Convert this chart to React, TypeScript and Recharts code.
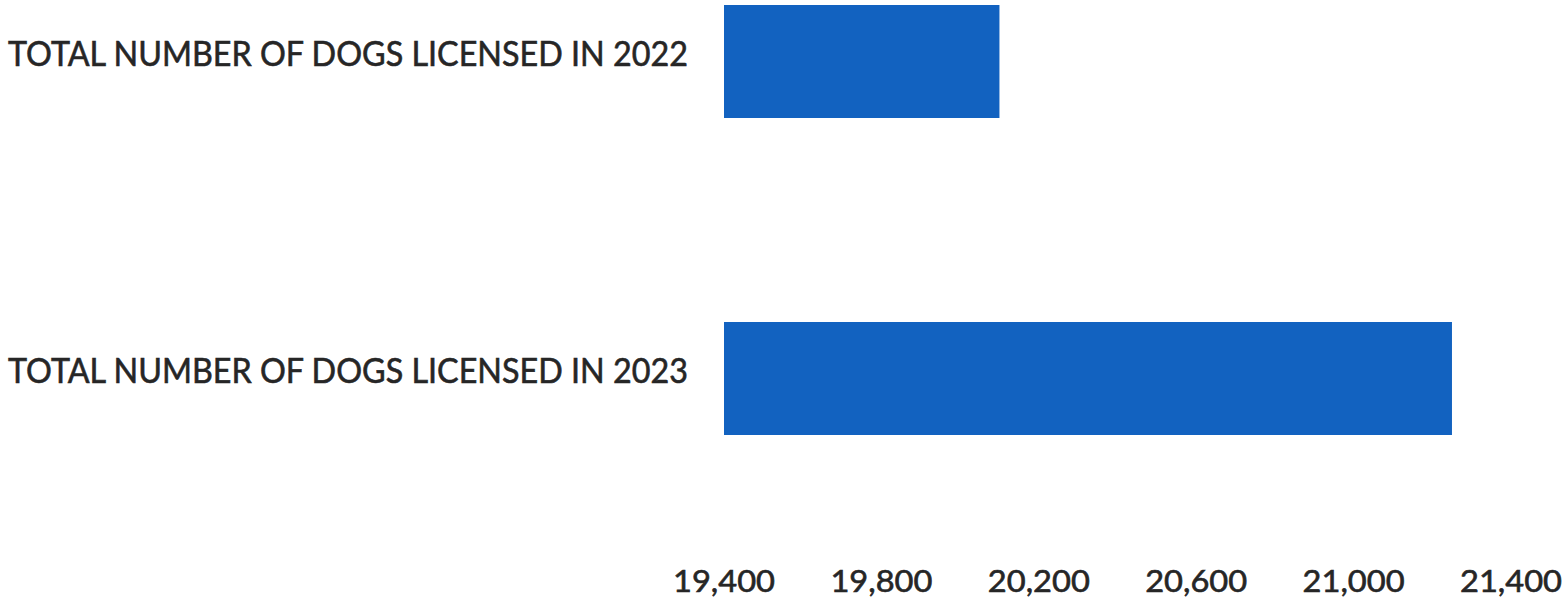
import React from "react";
import { BarChart, Bar, XAxis, YAxis } from "recharts";

const categories = [
  "TOTAL NUMBER OF DOGS LICENSED IN 2022",
  "TOTAL NUMBER OF DOGS LICENSED IN 2023",
];
const dogsLicensed = [20100, 21250];
const xTicks = [19400, 19800, 20200, 20600, 21000, 21400];

const data = categories.map((name, i) => ({ name, value: dogsLicensed[i] }));

const TEXT = "#262626";
const FONT = "Lato, 'Open Sans', sans-serif";

const YTick = (props: any) => {
  const { y, payload } = props;
  return (
    <text
      x={8}
      y={y + 4}
      fill={TEXT}
      stroke={TEXT}
      strokeWidth={0.6}
      fontFamily={FONT}
      fontSize={35}
      textAnchor="start"
      textLength={680}
      lengthAdjust="spacingAndGlyphs"
    >
      {payload.value}
    </text>
  );
};

const XTick = (props: any) => {
  const { x, y, payload } = props;
  const label = Number(payload.value).toLocaleString("en-US");
  return (
    <text
      x={x}
      y={y + 55}
      fill={TEXT}
      stroke={TEXT}
      strokeWidth={0.6}
      fontFamily={FONT}
      fontSize={30.5}
      textAnchor="middle"
      textLength={102}
      lengthAdjust="spacingAndGlyphs"
    >
      {label}
    </text>
  );
};

export default function App() {
  return (
    <div style={{ position: "absolute", left: 0, top: 0, background: "#fff" }}>
      <BarChart
        width={1566}
        height={609}
        data={data}
        layout="vertical"
        margin={{ top: -97, right: 55, bottom: 0, left: 0 }}
      >
        <XAxis
          type="number"
          domain={[19400, 21400]}
          ticks={xTicks}
          axisLine={false}
          tickLine={false}
          tickSize={0}
          tickMargin={0}
          height={72}
          interval={0}
          allowDataOverflow
          tick={<XTick />}
        />
        <YAxis
          type="category"
          dataKey="name"
          width={724}
          axisLine={false}
          tickLine={false}
          tick={<YTick />}
        />
        <Bar dataKey="value" fill="#1262c0" barSize={113} isAnimationActive={false} />
      </BarChart>
    </div>
  );
}
